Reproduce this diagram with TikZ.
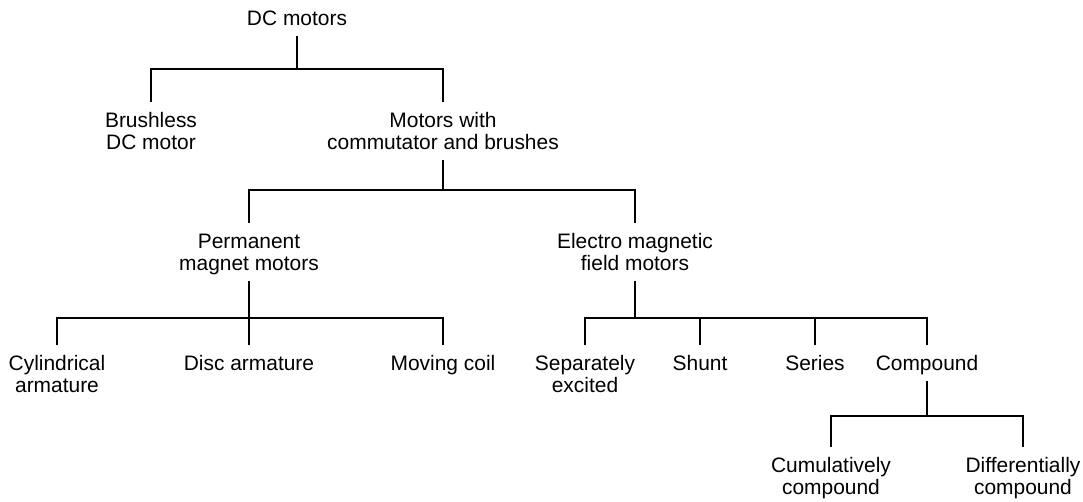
\documentclass[tikz,border=0pt]{standalone}
\usepackage{fontspec}
\setmainfont{Liberation Sans}
\usetikzlibrary{positioning, calc}

\begin{document}
\begin{tikzpicture}[
    x=0.75pt, y=-0.75pt,
    motor/.style={anchor=north, align=center, inner xsep=2pt, inner ysep=7.5pt, text height=11.3pt, text depth=0pt, font=\fontsize{15.7}{16.5}\selectfont},
    tall/.style={motor, text height=27.8pt},
    link/.style={line width=1.5pt, color=black}
]
\useasboundingbox (0,0) rectangle (1083,501);

% top levels
\node[motor] (dc) at (297,0) {DC motors};
\node[tall] (bl) at (151,102) {Brushless\\DC motor};
\node[tall] (mc) at (443,102) {Motors with\\commutator and brushes};
\node[tall] (pm) at (249,223) {Permanent\\magnet motors};
\node[tall] (em) at (635,223) {Electro magnetic\\field motors};

% leaves
\node[tall] (cyl) at (57,345) {Cylindrical\\armature};
\node[motor] (disc) at (249,345) {Disc armature};
\node[motor] (mov) at (443,345) {Moving coil};
\node[tall] (sep) at (585,345) {Separately\\excited};
\node[motor] (shunt) at (700,345) {Shunt};
\node[motor] (series) at (815,345) {Series};
\node[motor] (comp) at (927,345) {Compound};
\node[tall] (cum) at (831,447) {Cumulatively\\compound};
\node[tall] (diff) at (1023,447) {Differentially\\compound};

% connectors
\draw[link] (dc.south) -- ++(0,33) coordinate (b1);
\draw[link] (bl.north) |- (b1) -| (mc.north);

\draw[link] (mc.south) -- ++(0,30) coordinate (b2);
\draw[link] (pm.north) |- (b2) -| (em.north);

\draw[link] (pm.south) -- ++(0,37) coordinate (b3) -- (disc.north);
\draw[link] (cyl.north) |- (b3) -| (mov.north);

\draw[link] (em.south) -- ++(0,37) coordinate (b4);
\draw[link] (sep.north) |- (b4) -| (comp.north);
\draw[link] (shunt.north) -- (shunt.north |- b4);
\draw[link] (series.north) -- (series.north |- b4);

\draw[link] (comp.south) -- ++(0,35) coordinate (b5);
\draw[link] (cum.north) |- (b5) -| (diff.north);

\end{tikzpicture}
\end{document}
